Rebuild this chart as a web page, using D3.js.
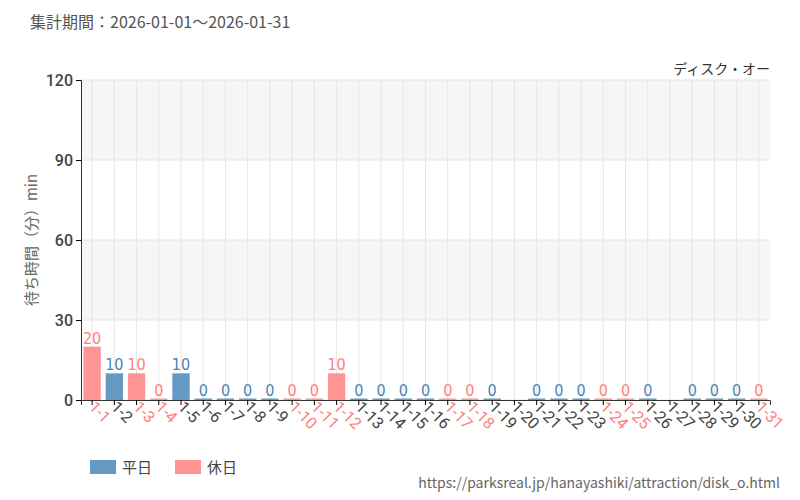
<!DOCTYPE html>
<html><head><meta charset="utf-8">
<script src="https://cdn.jsdelivr.net/npm/d3@7"></script>
<style>body{margin:0;background:#fff}svg{font-family:"Noto Sans CJK JP","Noto Sans",sans-serif}</style>
</head><body><svg id="c" width="800" height="500"></svg>
<script>
const days = d3.range(1, 32).map(d => `1-${d}`)
const waits = [20,10,10,0,10,0,0,0,0,0,0,10,0,0,0,0,0,0,0,null,0,0,0,0,0,0,null,0,0,0,0]
const holidays = ['1-1','1-3','1-4','1-10','1-11','1-12','1-17','1-18','1-24','1-25','1-31']
const yTicks = [0, 30, 60, 90, 120]
const blue = '#6699c2', red = '#ff9494', blueText = '#4a84b5', redText = '#ff8080'

const margin = {top: 80, right: 30, bottom: 100, left: 81}
const W = 800, H = 500
const svg = d3.select('#c')

const x = d3.scaleBand().domain(days).range([margin.left, W - margin.right]).paddingInner(0.22).paddingOuter(0.11)
const y = d3.scaleLinear().domain([0, 120]).range([H - margin.bottom, margin.top])

// alternating bands
svg.selectAll('.band').data([[90,120],[30,60]]).join('rect')
  .attr('x', margin.left).attr('width', W - margin.right - margin.left)
  .attr('y', d => y(d[1])).attr('height', d => y(d[0]) - y(d[1]))
  .attr('fill', '#f6f6f6')
// grid
svg.selectAll('.hg').data(yTicks).join('line')
  .attr('x1', margin.left).attr('x2', W - margin.right)
  .attr('y1', d => y(d)).attr('y2', d => y(d)).attr('stroke', '#e6e6e6')
svg.selectAll('.vg').data(days).join('line')
  .attr('x1', d => x(d) + x.bandwidth()/2).attr('x2', d => x(d) + x.bandwidth()/2)
  .attr('y1', y(120)).attr('y2', y(0)).attr('stroke', '#e6e6e6')

const data = days.map((d, i) => ({day: d, v: waits[i], hol: holidays.includes(d)})).filter(d => d.v != null)

svg.selectAll('.bar').data(data).join('rect')
  .attr('x', d => x(d.day)).attr('width', x.bandwidth())
  .attr('y', d => Math.min(y(d.v), y(0) - 1.5)).attr('height', d => Math.max(y(0) - y(d.v), 1.5))
  .attr('fill', d => d.hol ? red : blue)

svg.selectAll('.vl').data(data).join('text')
  .attr('x', d => x(d.day) + x.bandwidth()/2).attr('y', d => Math.min(y(d.v), y(0) - 1.5) - 3)
  .attr('text-anchor', 'middle').attr('font-family', 'DejaVu Sans Condensed').attr('font-size', 16)
  .attr('transform-origin', 'center').attr('fill', d => d.hol ? redText : blueText).text(d => d.v)

// axes
const ya = svg.append('g').attr('transform', `translate(${margin.left},0)`)
  .call(d3.axisLeft(y).tickValues(yTicks).tickSize(5))
ya.select('.domain').attr('stroke', '#333')
ya.selectAll('text').attr('font-size', 16).attr('font-weight', 500).attr('fill', '#444').attr('font-family', 'Roboto')

const xa = svg.append('g').attr('transform', `translate(0,${y(0)})`)
  .call(d3.axisBottom(x).tickSize(5))
xa.select('.domain').attr('stroke', '#333')
xa.selectAll('text').attr('font-size', 16).attr('font-family', 'Roboto')
  .attr('fill', d => holidays.includes(d) ? redText : '#444')
  .attr('text-anchor', 'start').attr('x', 0).attr('y', 0).attr('dy', 0)
  .attr('transform', 'translate(-4,8) rotate(45)')

svg.append('text').attr('transform', `translate(37,${(y(0)+y(120))/2}) rotate(-90)`)
  .attr('text-anchor', 'middle').attr('font-size', 15).attr('fill', '#666').text('待ち時間（分）min')

svg.append('text').attr('x', 30).attr('y', 28).attr('font-size', 16).attr('fill', '#555')
  .text('集計期間：2026-01-01～2026-01-31')
svg.append('text').attr('x', 770).attr('y', 74).attr('text-anchor', 'end').attr('font-size', 14).attr('fill', '#333')
  .text('ディスク・オー')

const legend = [['平日', blue], ['休日', red]]
const lg = svg.selectAll('.lg').data(legend).join('g').attr('transform', (d, i) => `translate(${90 + i*85},460)`)
lg.append('rect').attr('width', 26).attr('height', 14).attr('fill', d => d[1])
lg.append('text').attr('x', 32).attr('y', 13).attr('font-size', 15).attr('fill', '#444').text(d => d[0])

svg.append('text').attr('x', 780).attr('y', 488).attr('text-anchor', 'end').attr('font-size', 14).attr('fill', '#666')
  .text('https://parksreal.jp/hanayashiki/attraction/disk_o.html')
</script></body></html>
